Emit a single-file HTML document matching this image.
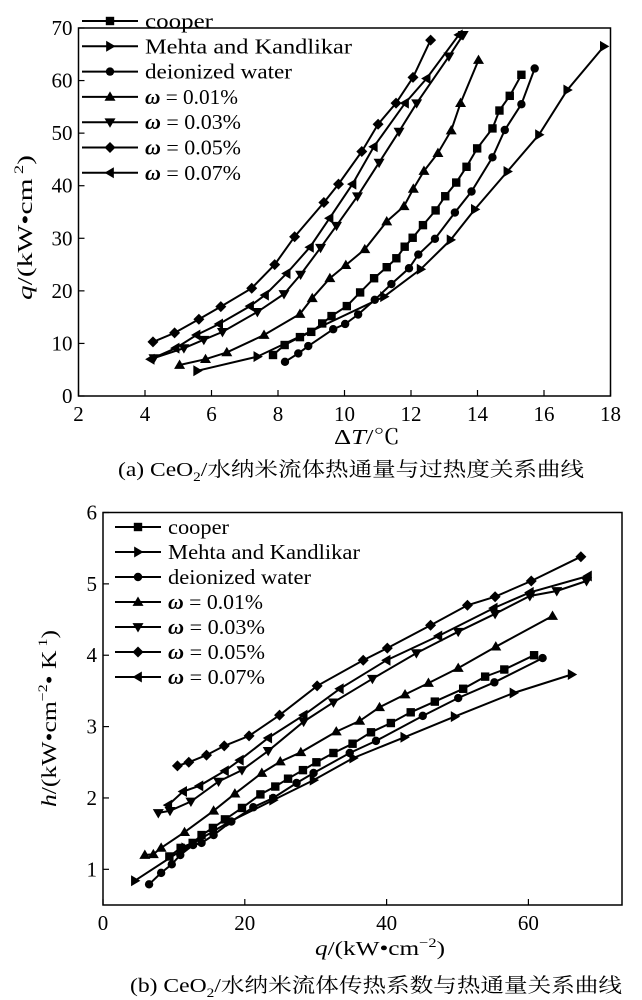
<!DOCTYPE html>
<html><head><meta charset="utf-8">
<style>
body{margin:0;background:#fff;}
svg{display:block;font-family:"Liberation Serif","Noto Serif CJK SC","Noto Sans CJK SC",serif;}
</style></head>
<body>
<svg id="svg" width="642" height="1000" viewBox="0 0 642 1000">
  <text transform="translate(32,300) rotate(-90)" font-size="21" textLength="145" lengthAdjust="spacingAndGlyphs"><tspan font-style="italic">q</tspan>/(kW•cm<tspan font-size="13" dy="-9"> 2</tspan><tspan dy="9">)</tspan></text>
  <text x="334" y="444" font-size="21" textLength="66" lengthAdjust="spacingAndGlyphs">Δ<tspan font-style="italic">T</tspan>/℃</text>
  <text x="118" y="476" font-size="20" textLength="466" lengthAdjust="spacingAndGlyphs">(a) CeO<tspan font-size="13" dy="5">2</tspan><tspan dy="-5">/水纳米流体热通量与过热度关系曲线</tspan></text>
  <text transform="translate(56,807) rotate(-90)" font-size="21" textLength="177" lengthAdjust="spacingAndGlyphs"><tspan font-style="italic">h</tspan>/(kW•cm<tspan font-size="13" dy="-9">−2</tspan><tspan dy="9">• K</tspan><tspan font-size="13" dy="-9"> 1</tspan><tspan dy="9">)</tspan></text>
  <text x="315" y="955" font-size="20" textLength="130" lengthAdjust="spacingAndGlyphs"><tspan font-style="italic">q</tspan>/(kW•cm<tspan font-size="13" dy="-8">−2</tspan><tspan dy="8">)</tspan></text>
  <text x="130" y="992" font-size="20" textLength="492" lengthAdjust="spacingAndGlyphs">(b) CeO<tspan font-size="13" dy="5">2</tspan><tspan dy="-5">/水纳米流体传热系数与热通量关系曲线</tspan></text>
</svg>
<script>
// ---------- Chart (a) data: ΔT vs q ----------
const aCooperX=[7.85,8.20,8.66,9.00,9.33,9.61,10.07,10.47,10.89,11.27,11.56,11.81,12.05,12.36,12.74,13.03,13.36,13.67,13.99,14.45,14.66,14.97,15.32];
const aCooperY=[7.8,9.7,11.2,12.2,13.8,15.2,17.1,19.7,22.4,24.5,26.2,28.4,30.1,32.5,35.3,38.0,40.6,43.6,47.1,50.9,54.3,57.1,61.1];
const aMehtaX=[5.57,7.38,11.19,12.29,13.19,13.92,14.90,15.85,16.70,17.80];
const aMehtaY=[4.8,7.5,18.9,24.1,29.7,35.5,42.7,49.7,58.2,66.5];
const aWaterX=[8.21,8.61,8.91,9.66,10.02,10.41,10.91,11.41,11.94,12.22,12.72,13.32,13.82,14.45,14.82,15.32,15.72];
const aWaterY=[6.5,8.1,9.5,12.7,13.7,15.5,18.3,21.3,24.3,26.9,29.9,34.9,38.9,45.4,50.6,55.5,62.3];
const aW01X=[5.04,5.82,6.46,7.58,8.66,9.03,9.56,10.04,10.61,11.27,11.79,12.07,12.39,12.81,13.21,13.49,14.03];
const aW01Y=[5.9,7.0,8.3,11.6,15.6,18.6,22.4,24.9,27.9,33.2,36.1,39.4,42.8,46.2,50.5,55.7,63.9];
const aW03X=[4.27,5.17,5.77,6.33,7.38,8.18,8.68,9.28,9.76,10.39,11.04,11.64,12.17,13.14,13.57];
const aW03Y=[7.2,9.1,10.7,12.2,16.0,19.4,23.1,28.2,32.4,38.0,44.4,50.3,55.7,64.6,68.7];
const aW05X=[4.24,4.89,5.62,6.28,7.21,7.90,8.50,9.38,9.82,10.52,11.01,11.55,12.06,12.59];
const aW05Y=[10.3,12.0,14.6,17.0,20.5,25.0,30.3,36.8,40.3,46.5,51.7,55.7,60.6,67.7];
const aW07X=[4.17,4.92,5.55,6.23,7.16,7.61,8.26,8.96,9.55,10.24,10.88,11.82,12.47,13.44];
const aW07Y=[7.0,9.1,11.6,13.7,17.1,19.2,23.3,28.3,33.8,40.3,47.4,55.7,60.4,68.7];
const aXTicks=[2,4,6,8,10,12,14,16,18];
const aYTicks=[0,10,20,30,40,50,60,70];

// ---------- Chart (b) data: q vs h ----------
const bCooperX=[9.36,10.95,12.65,13.9,15.5,17.2,19.6,22.2,24.3,26.1,28.2,30.1,32.5,35.2,37.8,40.6,43.4,46.8,50.8,53.9,56.6,60.8];
const bCooperY=[1.18,1.30,1.37,1.48,1.58,1.70,1.86,2.05,2.16,2.27,2.39,2.50,2.63,2.76,2.92,3.05,3.20,3.35,3.53,3.70,3.80,4.00];
const bMehtaX=[4.5,11.6,17.9,24.0,29.7,35.3,42.5,49.6,57.9,66.1];
const bMehtaY=[0.84,1.30,1.67,1.97,2.25,2.56,2.85,3.14,3.47,3.73];
const bWaterX=[6.5,8.2,9.7,10.9,12.7,13.9,15.6,18.1,21.2,24.0,27.3,29.7,34.8,38.5,45.1,50.1,55.2,62.0];
const bWaterY=[0.79,0.95,1.07,1.20,1.34,1.37,1.48,1.67,1.87,2.00,2.21,2.35,2.63,2.80,3.15,3.40,3.62,3.96];
const bW01X=[5.9,7.1,8.2,11.5,15.6,18.6,22.4,25.0,27.9,32.9,36.2,39.0,42.6,45.9,50.1,55.4,63.4];
const bW01Y=[1.20,1.21,1.30,1.52,1.82,2.06,2.35,2.51,2.64,2.93,3.08,3.27,3.45,3.61,3.82,4.12,4.55];
const bW03X=[7.8,9.45,12.4,16.3,19.6,23.3,28.3,32.5,38.0,44.2,50.1,55.3,60.2,64.0,68.2];
const bW03Y=[1.79,1.82,1.95,2.23,2.39,2.66,3.07,3.34,3.67,4.03,4.33,4.58,4.83,4.90,5.04];
const bW05X=[10.5,12.1,14.6,17.1,20.6,24.9,30.2,36.7,40.1,46.2,51.4,55.3,60.4,67.4];
const bW05Y=[2.45,2.50,2.60,2.73,2.87,3.16,3.57,3.93,4.10,4.42,4.70,4.82,5.04,5.38];
const bW07X=[9.2,11.3,13.6,17.2,19.3,23.3,28.3,33.4,40.0,47.3,55.1,60.2,68.4];
const bW07Y=[1.90,2.09,2.17,2.38,2.53,2.84,3.16,3.53,3.93,4.27,4.66,4.88,5.11];
const bXTicks=[0,20,40,60];
const bYTicks=[1,2,3,4,5,6];

const legendLabels=["cooper","Mehta and Kandlikar","deionized water","ω = 0.01%","ω = 0.03%","ω = 0.05%","ω = 0.07%"];
const legendWidthsA=[68,207,147,93,96,96,96];
const legendWidthsB=[61,192,143,95,97,97,97];
const markerTypes=["square","right","circle","up","down","diamond","left"];
const seriesNames=["cooper","mehta","deionized-water","w001","w003","w005","w007"];

const NS="http://www.w3.org/2000/svg";
const svg=document.getElementById('svg');
function el(tag,attrs,parent){const e=document.createElementNS(NS,tag);for(const k in attrs)e.setAttribute(k,attrs[k]);(parent||svg).appendChild(e);return e;}

function marker(g,type,x,y){
  const s=4.2;let m;
  if(type==="square")m=el('rect',{x:x-s,y:y-s,width:2*s,height:2*s,fill:'#000'},g);
  else if(type==="circle")m=el('circle',{cx:x,cy:y,r:s,fill:'#000'},g);
  else{
    let p;const t=5.5;
    if(type==="up")p=[[x,y-t],[x-t,y+t*0.7],[x+t,y+t*0.7]];
    if(type==="down")p=[[x,y+t],[x-t,y-t*0.7],[x+t,y-t*0.7]];
    if(type==="right")p=[[x+t,y],[x-t*0.7,y-t],[x-t*0.7,y+t]];
    if(type==="left")p=[[x-t,y],[x+t*0.7,y-t],[x+t*0.7,y+t]];
    if(type==="diamond")p=[[x,y-t],[x+t,y],[x,y+t],[x-t,y]];
    m=el('polygon',{points:p.map(q=>q.join(',')).join(' '),fill:'#000'},g);
  }
  return m;
}

function drawChart(cfg){
  const g=el('g',{});
  
  
  const sx=v=>cfg.x0+(v-cfg.xmin)*(cfg.x1-cfg.x0)/(cfg.xmax-cfg.xmin);
  const sy=v=>cfg.y0+(v-cfg.ymin)*(cfg.y1-cfg.y0)/(cfg.ymax-cfg.ymin);
  const frame=el('rect',{x:cfg.x0,y:cfg.y1,width:cfg.x1-cfg.x0,height:cfg.y0-cfg.y1,fill:'none',stroke:'#000','stroke-width':1.5},g);
  
  
  cfg.xt.forEach(v=>{
    const X=sx(v);
    el('line',{x1:X,y1:cfg.y0,x2:X,y2:cfg.y0-6,stroke:'#000','stroke-width':1.2},g);
    const t=el('text',{x:X,y:cfg.y0+25,'text-anchor':'middle','font-size':21},g);
    t.textContent=v;
    
    
  });
  cfg.yt.forEach(v=>{
    const Y=sy(v);
    el('line',{x1:cfg.x0,y1:Y,x2:cfg.x0+6,y2:Y,stroke:'#000','stroke-width':1.2},g);
    const t=el('text',{x:cfg.x0-6,y:Y+7,'text-anchor':'end','font-size':21},g);
    t.textContent=v;
    
    
  });
  cfg.series.forEach((s,i)=>{
    const sg=el('g',{},g);
    
    
    const pts=s[0].map((x,j)=>sx(x).toFixed(1)+','+sy(s[1][j]).toFixed(1)).join(' ');
    const pl=el('polyline',{points:pts,fill:'none',stroke:'#000','stroke-width':2},sg);
    
    
    s[0].forEach((x,j)=>{
      const m=marker(sg,markerTypes[i],sx(x),sy(s[1][j]));
      
      
    });
  });
  const lg=el('g',{},g);
  
  
  legendLabels.forEach((lab,i)=>{
    const y=cfg.ly+i*cfg.lstep;
    const eg=el('g',{},lg);
    
    
    el('line',{x1:cfg.lx,y1:y,x2:cfg.lx+cfg.lw,y2:y,stroke:'#000','stroke-width':2},eg);
    marker(eg,markerTypes[i],cfg.lx+cfg.lw/2,y);
    const t=el('text',{x:cfg.lx+cfg.lw+7,y:y+7,'font-size':21,textLength:cfg.lwidths[i],lengthAdjust:'spacingAndGlyphs'},eg);
    if(i>=3){
      const a=el('tspan',{'font-style':'italic','font-weight':'bold'},t);a.textContent='ω';
      const b=el('tspan',{},t);b.textContent=lab.slice(1);
    } else t.textContent=lab;
  });
}

drawChart({name:'chart-a-heat-flux-vs-superheat',x0:78.5,x1:610.5,y0:396,y1:28,xmin:2,xmax:18,ymin:0,ymax:70,xt:aXTicks,yt:aYTicks,
  series:[[aCooperX,aCooperY],[aMehtaX,aMehtaY],[aWaterX,aWaterY],[aW01X,aW01Y],[aW03X,aW03Y],[aW05X,aW05Y],[aW07X,aW07Y]],
  lx:82,lw:56,ly:21,lstep:25.3,lwidths:legendWidthsA});
drawChart({name:'chart-b-htc-vs-heat-flux',x0:103,x1:622,y0:905,y1:512.5,xmin:0,xmax:73.2,ymin:0.5,ymax:6,xt:bXTicks,yt:bYTicks,
  series:[[bCooperX,bCooperY],[bMehtaX,bMehtaY],[bWaterX,bWaterY],[bW01X,bW01Y],[bW03X,bW03Y],[bW05X,bW05Y],[bW07X,bW07Y]],
  lx:115,lw:46,ly:527,lstep:25,lwidths:legendWidthsB});
</script>
</body></html>
